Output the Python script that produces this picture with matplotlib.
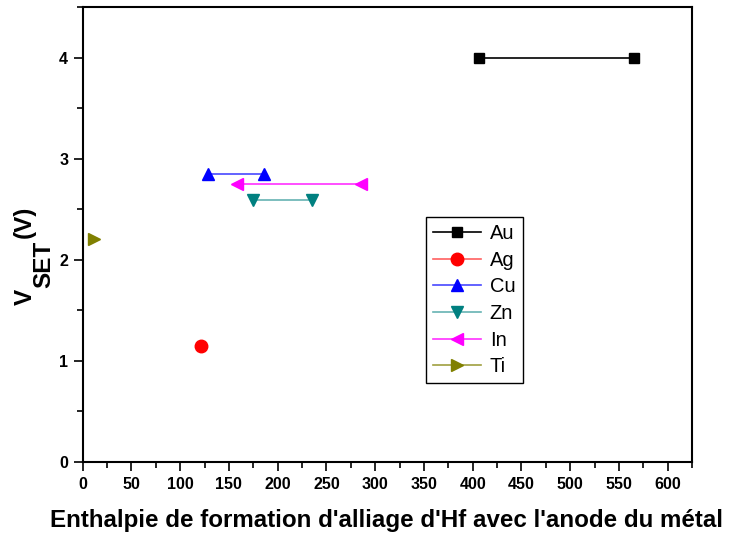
import matplotlib
matplotlib.use("Agg")
import matplotlib.pyplot as plt
from matplotlib.ticker import MultipleLocator

plt.rcParams['font.family'] = ['Liberation Sans', 'DejaVu Sans']

names = ["Au", "Ag", "Cu", "Zn", "In", "Ti"]
x_au = [407, 565]; y_au = [4.0, 4.0]
x_ag = [121]; y_ag = [1.15]
x_cu = [129, 186]; y_cu = [2.85, 2.85]
x_zn = [175, 235]; y_zn = [2.59, 2.59]
x_in = [158, 285]; y_in = [2.75, 2.75]
x_ti = [12]; y_ti = [2.21]

series = [
    (x_au, y_au, "black", "#000000", "s", 7),
    (x_ag, y_ag, "red", "#ff6060", "o", 9),
    (x_cu, y_cu, "blue", "#4848ff", "^", 9),
    (x_zn, y_zn, "#008080", "#66b3b3", "v", 9),
    (x_in, y_in, "magenta", "#ff30ff", "<", 9),
    (x_ti, y_ti, "#808000", "#a0a040", ">", 9),
]

W, H = 729, 534
fig = plt.figure(figsize=(W / 100, H / 100), dpi=100)
ax = fig.add_axes([82.7 / W, (H - 462) / H, (692 - 82.7) / W, (462 - 7.3) / H])

for (xs, ys, mc, lc, m, ms), nm in zip(series, names):
    ax.plot(xs, ys, color=lc, lw=1.2, marker=m, markersize=ms,
            markerfacecolor=mc, markeredgecolor=mc, label=nm)

ax.set_xlim(0, 625)
ax.set_ylim(0, 4.5)
ax.xaxis.set_major_locator(MultipleLocator(50))
ax.xaxis.set_minor_locator(MultipleLocator(25))
ax.yaxis.set_major_locator(MultipleLocator(1))
ax.yaxis.set_minor_locator(MultipleLocator(0.5))
ax.tick_params(which='both', direction='out', top=False, right=False, width=1.2)
ax.tick_params(which='major', length=6.5, labelsize=11.5, pad=4)
ax.tick_params(which='minor', length=4)
for lab in ax.get_xticklabels() + ax.get_yticklabels():
    lab.set_fontweight('bold')
for s in ax.spines.values():
    s.set_linewidth(1.5)

ax.set_xlabel("Enthalpie de formation d'alliage d'Hf avec l'anode du métal",
              fontsize=17.4, fontweight='bold')
ax.xaxis.set_label_coords((387 - 82.7) / (692 - 82.7), -(520 - 462) / (462 - 7.3))
ax.xaxis.label.set_va('center')

# y label: V with same-size lowered "SET", then (V)
ylab_kw = dict(rotation=90, rotation_mode='anchor', ha='left', va='baseline',
               fontsize=17.5, fontweight='bold')
fig.text(32 / W, (H - 305) / H, "V", **ylab_kw)
fig.text(50 / W, (H - 288) / H, "SET", **ylab_kw)
fig.text(31 / W, (H - 238) / H, "(V)", **ylab_kw)

leg = ax.legend(loc='upper left', bbox_to_anchor=(426 / W, 1 - 217 / H),
                bbox_transform=fig.transFigure, numpoints=1, fancybox=False,
                edgecolor='black', framealpha=1, fontsize=14.5,
                handlelength=2.4, borderpad=0.35, labelspacing=0.38,
                handletextpad=0.42, borderaxespad=0)
leg.get_frame().set_linewidth(1.0)

fig.savefig("out.png", dpi=100)
